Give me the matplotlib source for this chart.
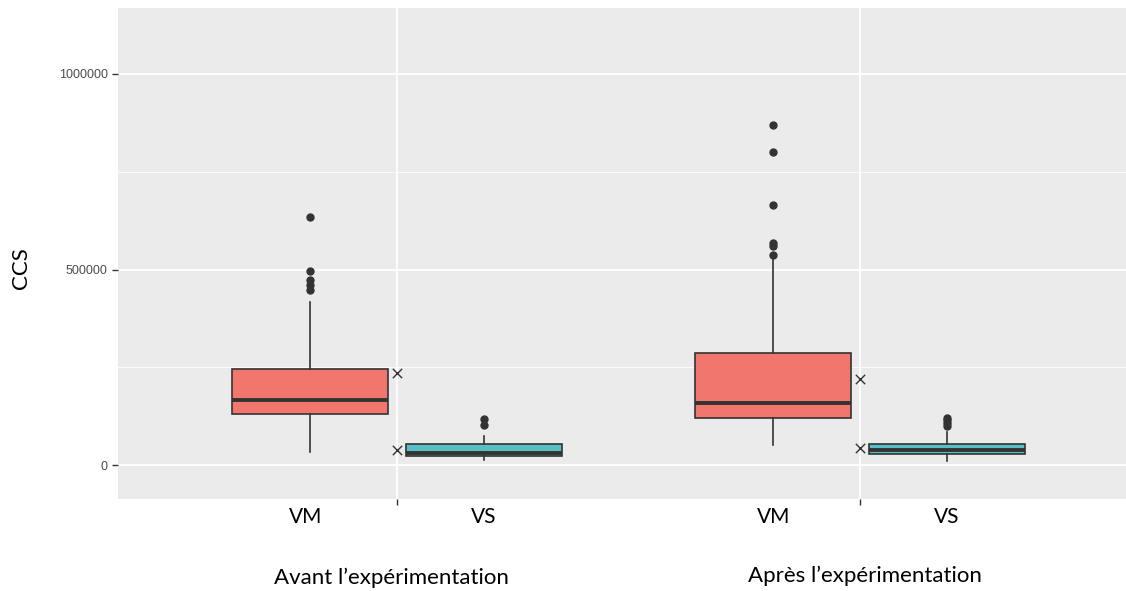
import matplotlib.pyplot as plt
from matplotlib.ticker import FixedLocator

# box statistics (CCS values)
groups = ['Avant l\u2019expérimentation', 'Après l\u2019expérimentation']
series = ['VM', 'VS']
colors = ['#F0766E', '#58C0C4']

q1 = [[130000, 24000], [122000, 30000]]
med = [[166000, 31000], [160000, 40000]]
q3 = [[245000, 54000], [287000, 55000]]
whislo = [[34000, 14500], [51000, 10000]]
whishi = [[418000, 74000], [525000, 84000]]
fliers = [
    [[635000, 495000, 474000, 461000, 448000], [117000, 103000]],
    [[870000, 800000, 664000, 567000, 561000, 537000], [122000, 115000, 107000, 100000]],
]
means = [[237000, 40000], [221000, 44000]]

fig = plt.figure(figsize=(11.26, 5.91), dpi=100)
ax = fig.add_axes([118 / 1126, 1 - 498.5 / 591, 1 - 118 / 1126, 490.5 / 591])
ax.set_facecolor('#EBEBEB')
for s in ax.spines.values():
    s.set_visible(False)

dodge = 0.1875
width = 0.3375
for g in range(2):
    for k in range(2):
        st = [dict(q1=q1[g][k], med=med[g][k], q3=q3[g][k], whislo=whislo[g][k],
                   whishi=whishi[g][k], fliers=fliers[g][k], label=series[k])]
        pos = g + 1 + (k * 2 - 1) * dodge
        ax.bxp(st, positions=[pos], widths=width, patch_artist=True, showcaps=False,
               boxprops=dict(facecolor=colors[k], edgecolor='#333333', linewidth=1.2),
               medianprops=dict(color='#333333', linewidth=2.8),
               whiskerprops=dict(color='#333333', linewidth=1.2),
               flierprops=dict(marker='o', markerfacecolor='#333333', markeredgecolor='#333333',
                               markersize=5),
               zorder=3)
    # group means drawn at the group centre
    ax.scatter([g + 1] * 2, means[g], marker='x', s=45, color='#333333', linewidths=1.0, zorder=4)

ax.set_xlim(0.397, 2.5745)
ax.set_ylim(-84800, 1168000)
ax.set_xticks([1, 2])
ax.set_xticklabels([])
ax.set_yticks([0, 500000, 1000000])
ax.set_yticklabels(['0', '500000', '1000000'], fontsize=9, color='#4D4D4D', family='Liberation Sans')
ax.yaxis.set_minor_locator(FixedLocator([250000, 750000]))
ax.tick_params(axis='both', which='major', length=4, width=1, color='#333333')
ax.tick_params(axis='y', which='minor', length=0)
ax.grid(True, which='major', color='white', linewidth=1.3, zorder=0)
ax.grid(True, which='minor', axis='y', color='white', linewidth=0.6, zorder=0)
ax.set_axisbelow(True)

ax.set_ylabel('CCS', fontsize=16, family='Lato')
ax.yaxis.set_label_coords(-0.086, 0.47)

tr = ax.get_xaxis_transform()
label_shift = [[-0.01, 0.0], [0.0, 0.0]]
for g in range(2):
    for k in range(2):
        pos = g + 1 + (k * 2 - 1) * dodge + label_shift[g][k]
        ax.text(pos, -0.038, series[k], transform=tr, ha='center', va='center',
                fontsize=15, family='Lato')
    ax.text(g + 1 - 0.012 * (1 - g) + 0.01 * g, -0.162 + g * 0.004, groups[g], transform=tr,
            ha='center', va='center', fontsize=16, family='Lato')

fig.savefig('out.png', dpi=100)
